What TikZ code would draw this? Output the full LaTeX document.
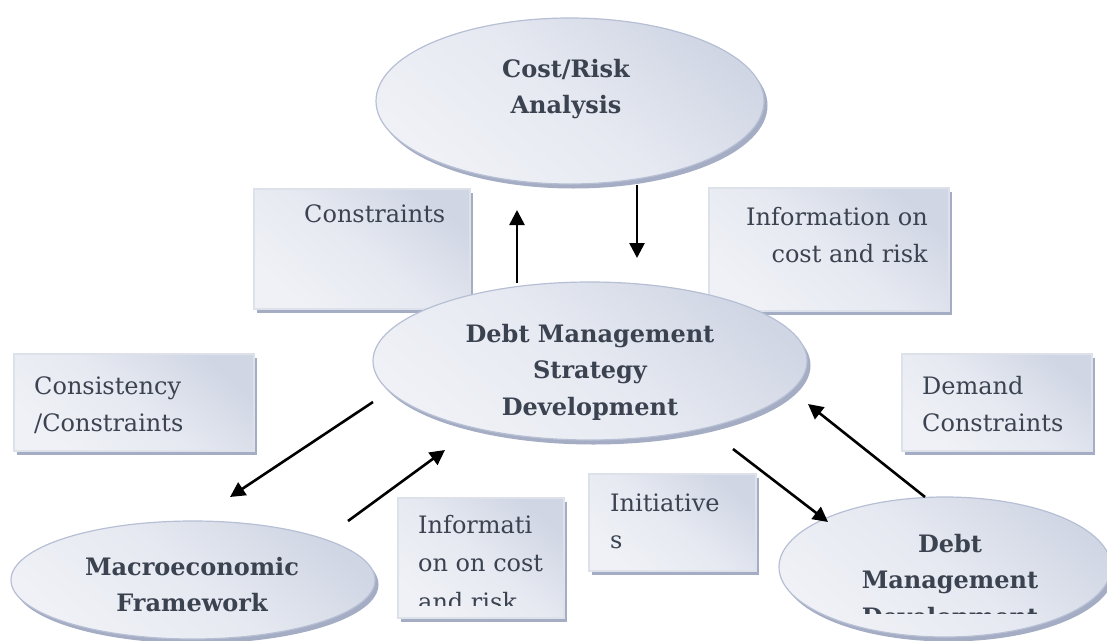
\documentclass[tikz,border=0pt]{standalone}
\usepackage{fontspec}
\setmainfont{DejaVu Serif}
\usetikzlibrary{arrows.meta,shapes.geometric}

\definecolor{txt}{HTML}{3B4250}
\definecolor{fillA}{HTML}{D0D6E4}
\definecolor{fillB}{HTML}{EFF1F6}
\definecolor{fillC}{HTML}{E6E9F1}
\definecolor{rim}{HTML}{B6BFD4}
\definecolor{boxrim}{HTML}{DDE1EA}
\definecolor{shadowc}{HTML}{A4ADC3}

\tikzset{
  surface/.style={
    preaction={fill=shadowc, transform canvas={shift={(3.5pt,-4.5pt)}}},
    top color=fillA, bottom color=fillB, middle color=fillC,
    shading angle=-40, inner sep=0pt},
  bubble/.style={surface, ellipse, draw=rim, line width=1.2pt},
  panel/.style={surface, rectangle, draw=boxrim, line width=1.5pt, anchor=north west},
  plain/.style={font=\fontsize{24}{37}\selectfont, text=txt, inner sep=0pt},
  strong/.style={plain, font=\fontsize{24}{36.5}\selectfont\bfseries, align=center, anchor=north},
  flow/.style={line width=2.6pt, -{Triangle[length=15pt,width=15pt]}}
}

\begin{document}
\begin{tikzpicture}[x=1pt,y=-1pt]
  \useasboundingbox (0,0) rectangle (1107,640);
  \clip (0,0) rectangle (1107,640);

  % text panels
  \node[panel, minimum width=216pt, minimum height=120pt] (pcon) at (253,188) {};
  \node[panel, minimum width=240pt, minimum height=123pt] (pinf) at (708,187) {};
  \node[panel, minimum width=240pt, minimum height=97pt]  (pcc)  at (13,353) {};
  \node[panel, minimum width=190pt, minimum height=97pt]  (pdem) at (901,353) {};
  \node[panel, minimum width=166pt, minimum height=120pt] (pinf2) at (397,497) {};
  \node[panel, minimum width=167pt, minimum height=97pt]  (pini) at (588,473) {};

  % ellipses
  \node[bubble, minimum width=388pt, minimum height=166pt] (cra) at (570,101) {};
  \node[bubble, minimum width=434pt, minimum height=158pt] (dms) at (590,361) {};
  \node[bubble, minimum width=364pt, minimum height=118pt] (mef) at (193,580) {};
  \node[bubble, minimum width=332pt, minimum height=140pt] (dmd) at (945,567) {};

  % ellipse labels
  \node[strong] (tcra) at (566,59) {Cost/Risk\\Analysis};
  \node[strong] (tdms) at (590,324) {Debt Management\\Strategy\\Development};
  \node[strong] (tmef) at (192,557) {Macroeconomic\\Framework};
  \begin{scope}
    \clip (780,480) rectangle (1107,613);
    \node[strong] (tdmd) at (950,534) {Debt\\Management\\Development};
  \end{scope}

  % panel labels
  \node[plain, anchor=north west] (tcon) at (304,204) {Constraints};
  \node[plain, anchor=north east, align=right] (tinf) at (928,207) {Information on\\cost and risk};
  \node[plain, anchor=north west, align=left] (tcc) at (34,376) {Consistency\\/Constraints};
  \node[plain, anchor=north west, align=left] (tdem) at (922,376) {Demand\\Constraints};
  \begin{scope}
    \clip (397,497) rectangle (563,605);
    \node[plain, anchor=north west, align=left, font=\fontsize{24}{38.5}\selectfont] (tinf2) at (418,515) {Informati\\on on cost\\and risk};
  \end{scope}
  \node[plain, anchor=north west, align=left] (tini) at (610,494) {Initiative\\s};

  % connector ends
  \coordinate (u0) at (517,283);  \coordinate (u1) at (517,210);
  \coordinate (d0) at (637,185);  \coordinate (d1) at (637,258);
  \coordinate (l0) at (373,402);  \coordinate (l1) at (230,497);
  \coordinate (m0) at (348,521);  \coordinate (m1) at (445,450);
  \coordinate (r0) at (733,449);  \coordinate (r1) at (828,522);
  \coordinate (q0) at (925,497);  \coordinate (q1) at (808,404);

  \draw[flow] (u0) -- (u1);
  \draw[flow] (d0) -- (d1);
  \draw[flow] (l0) -- (l1);
  \draw[flow] (m0) -- (m1);
  \draw[flow] (r0) -- (r1);
  \draw[flow] (q0) -- (q1);
\end{tikzpicture}
\end{document}
